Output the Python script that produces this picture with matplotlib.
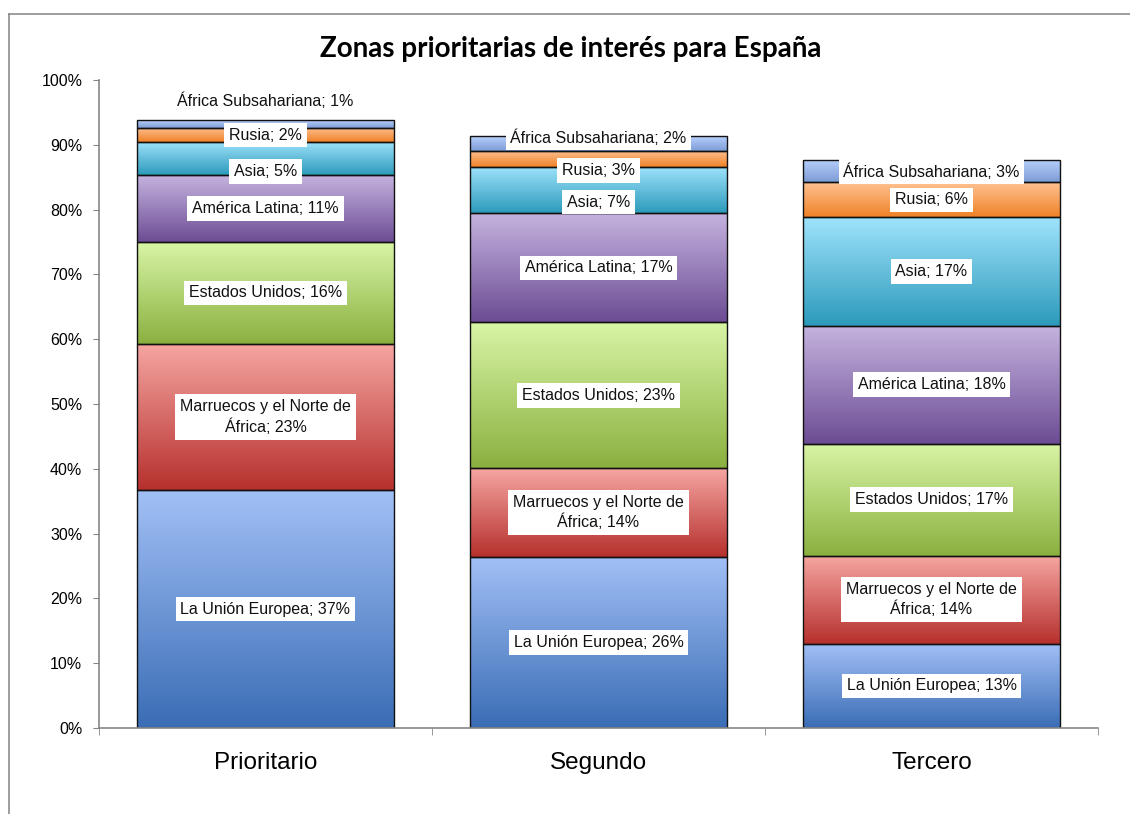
import matplotlib
matplotlib.use('Agg')
import matplotlib.pyplot as plt
import matplotlib.patches as mpatches
import matplotlib.ticker as mtick
import numpy as np

categories = ['Prioritario', 'Segundo', 'Tercero']
series = ['La Unión Europea', 'Marruecos y el Norte de\nÁfrica', 'Estados Unidos',
          'América Latina', 'Asia', 'Rusia', 'África Subsahariana']

# values in % (bottom to top)
union_europea = [36.7, 26.4, 13.0]
marruecos = [22.6, 13.7, 13.6]
estados_unidos = [15.7, 22.5, 17.3]
america_latina = [10.3, 16.8, 18.2]
asia = [5.1, 7.1, 16.7]
rusia = [2.2, 2.6, 5.4]
africa_sub = [1.2, 2.3, 3.4]

label_pct = [[37, 26, 13], [23, 14, 14], [16, 23, 17], [11, 17, 18],
             [5, 7, 17], [2, 3, 6], [1, 2, 3]]

values = [union_europea, marruecos, estados_unidos, america_latina, asia, rusia, africa_sub]

# gradient colours (top, bottom)
grads = [('#a2c0f6', '#3a6db5'),
         ('#f6a6a2', '#b6302d'),
         ('#d8f5a6', '#8bb03f'),
         ('#c5b3df', '#6c4c94'),
         ('#9fe3fc', '#2c9abb'),
         ('#ffc292', '#ef8228'),
         ('#b7cffc', '#7d9dd6')]

# label nudges (percentage points) where Excel moved labels to avoid overlap
nudge = {(4, 0): -2.0, (6, 0): 3.6, (6, 1): 0.9, (5, 1): -1.8, (4, 1): -1.8}

plt.rcParams['font.family'] = ['Liberation Sans', 'DejaVu Sans']

fig = plt.figure(figsize=(11.3, 8.14), dpi=100)
ax = fig.add_axes([0.0876, 0.1057, 0.8841, 0.796])

# chart area border (top and left visible)
fig.add_artist(plt.Line2D([9 / 1130, 9 / 1130], [0, 1 - 14 / 814], color='#8c8c8c', lw=1.2))
fig.add_artist(plt.Line2D([9 / 1130, 1], [1 - 14 / 814, 1 - 14 / 814], color='#8c8c8c', lw=1.2))

x = np.arange(len(categories))
width = 0.77
bottom = np.zeros(len(categories))
for i, vals in enumerate(values):
    vals = np.array(vals)
    bars = ax.bar(x, vals, width, bottom=bottom, facecolor='none', edgecolor='#111111',
                  linewidth=1.0, zorder=3)
    top_c = np.array(matplotlib.colors.to_rgb(grads[i][0]))
    bot_c = np.array(matplotlib.colors.to_rgb(grads[i][1]))
    t = np.linspace(0, 1, 256)[:, None]
    img = (top_c[None, :] * (1 - t) + bot_c[None, :] * t)[:, None, :]
    for j, b in enumerate(bars):
        x0, y0 = b.get_x(), b.get_y()
        im = ax.imshow(img, extent=[x0, x0 + b.get_width(), y0, y0 + b.get_height()],
                       aspect='auto', zorder=2, interpolation='bilinear')
        rect = mpatches.Rectangle((x0, y0), b.get_width(), b.get_height(), transform=ax.transData)
        im.set_clip_path(rect)
        name = series[i]
        ly = bottom[j] + vals[j] / 2 + nudge.get((i, j), 0)
        txt = '%s; %d%%' % (name, label_pct[i][j])
        boxed = not (i == 6 and j == 0)
        ax.text(x0 + b.get_width() / 2, ly, txt, ha='center', va='center', fontsize=11.5,
                color='#111111', zorder=5, linespacing=1.3,
                bbox=dict(boxstyle='square,pad=0.3', facecolor='white', edgecolor='none')
                if boxed else None)
    bottom += vals

ax.set_xlim(-0.5, 2.5)
ax.set_ylim(0, 100)
ax.set_yticks(np.arange(0, 101, 10))
ax.yaxis.set_major_formatter(mtick.FuncFormatter(lambda v, p: '%d%%' % v))
ax.set_xticks(x)
ax.set_xticklabels(categories, fontsize=17.5)
ax.set_xticks([-0.5, 0.5, 1.5, 2.5], minor=True)
ax.tick_params(axis='x', which='major', length=0, pad=17)
ax.tick_params(axis='x', which='minor', length=5, color='#868686', direction='out')
ax.tick_params(axis='y', length=4, color='#868686', labelsize=11.5, pad=8)
for s in ['top', 'right']:
    ax.spines[s].set_visible(False)
for s in ['left', 'bottom']:
    ax.spines[s].set_color('#868686')
    ax.spines[s].set_linewidth(1.2)
ax.spines['bottom'].set_zorder(4)

fig.text(0.505, 1 - 49 / 814, 'Zonas prioritarias de interés para España', ha='center',
         va='center', fontsize=20, fontweight='bold', family=['Lato', 'DejaVu Sans'])

fig.savefig('out.png', dpi=100)
